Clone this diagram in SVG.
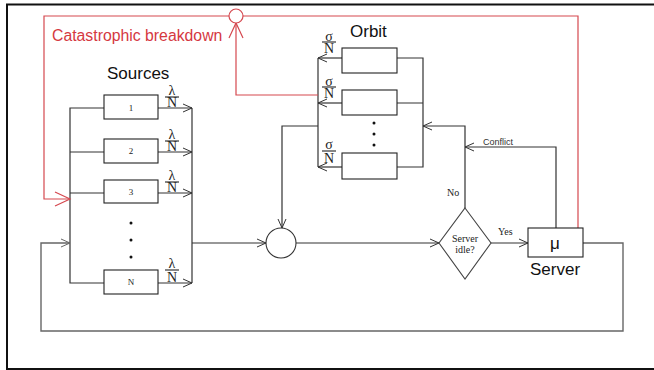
<svg xmlns="http://www.w3.org/2000/svg" width="654" height="370" viewBox="0 0 654 370">
<style>
.ln{fill:none;stroke:#333;stroke-width:1.2}
.fb{fill:none;stroke:#666;stroke-width:1.4}
.rd{fill:none;stroke:#d5484f;stroke-width:1.2}
.box{fill:#fff;stroke:#222;stroke-width:1.1}
.sans{font-family:"Liberation Sans",Arial,sans-serif;fill:#111}
.serif{font-family:"Liberation Serif","Times New Roman",serif;fill:#222}
.frac{font-family:"Liberation Serif","Times New Roman",serif;font-size:14px;fill:#222;text-anchor:middle}
.bar{stroke:#222;stroke-width:1.1}
.lbl{font-family:"Liberation Serif","Times New Roman",serif;font-size:9px;fill:#222;text-anchor:middle}
.dot{fill:#111}
</style>
<defs>
<marker id="a" markerUnits="userSpaceOnUse" markerWidth="20" markerHeight="20" refX="0" refY="0" orient="auto" overflow="visible">
<path d="M-9,-4 L0,0 L-9,4" fill="none" stroke="#333" stroke-width="1"/>
</marker>
<marker id="ag" markerUnits="userSpaceOnUse" markerWidth="20" markerHeight="20" refX="0" refY="0" orient="auto" overflow="visible">
<path d="M-9,-4 L0,0 L-9,4" fill="none" stroke="#666" stroke-width="1"/>
</marker>
<marker id="ar" markerUnits="userSpaceOnUse" markerWidth="30" markerHeight="30" refX="0" refY="0" orient="auto" overflow="visible">
<path d="M-15,-7 L0,0 L-15,7" fill="none" stroke="#d5484f" stroke-width="1.2"/>
</marker>
</defs>
<rect x="0" y="0" width="654" height="370" fill="#fff"/>
<path d="M654,4.5 H7 V369 H654" fill="none" stroke="#111" stroke-width="2"/>

<g id="connectors">
<path class="ln" d="M104,108 H70 V283 H104 M70,152 H104 M70,193 H104"/>
<path class="ln" d="M192,108 V283"/>
<path class="ln" d="M158,108 H192" marker-end="url(#a)"/>
<path class="ln" d="M158,152 H192" marker-end="url(#a)"/>
<path class="ln" d="M158,193 H192" marker-end="url(#a)"/>
<path class="ln" d="M158,283 H192" marker-end="url(#a)"/>
<path class="ln" d="M192,243 H266" marker-end="url(#a)"/>
<path class="ln" d="M296,243 H439" marker-end="url(#a)"/>
<path class="ln" d="M491,243 H528" marker-end="url(#a)"/>
<path class="ln" d="M465,208 V126 H423" marker-end="url(#a)"/>
<path class="ln" d="M556,228 V147 H465" marker-end="url(#a)"/>
<path class="ln" d="M397,58 H423 V167 H397 M397,103 H423"/>
<path class="ln" d="M318,58 V167"/>
<path class="ln" d="M342,58 H318" marker-end="url(#a)"/>
<path class="ln" d="M342,103 H318" marker-end="url(#a)"/>
<path class="ln" d="M342,167 H318" marker-end="url(#a)"/>
<path class="ln" d="M318,126 H282 V228" marker-end="url(#a)"/>
<path class="fb" d="M583,243 H623 V331 H41 V243 H70" marker-end="url(#ag)"/>
<path class="rd" d="M318,95 H236 V23" marker-end="url(#ar)"/>
<path class="rd" d="M578,228 V16 H243"/>
<path class="rd" d="M229,16 H44 V199 H70" marker-end="url(#ar)"/>
</g>

<g id="breakdown">
<circle cx="236" cy="16" r="7" fill="#fff" stroke="#d5484f" stroke-width="1.2"/>
<text class="sans" x="52" y="41" font-size="15.8" style="fill:#d5383f">Catastrophic breakdown</text>
</g>

<g id="sources">
<text class="sans" x="107" y="79" font-size="17">Sources</text>
<rect class="box" x="104" y="95" width="54" height="24"/>
<text class="lbl" x="131" y="111">1</text>
<rect class="box" x="104" y="139" width="54" height="24"/>
<text class="lbl" x="131" y="154">2</text>
<rect class="box" x="104" y="180" width="54" height="23"/>
<text class="lbl" x="131" y="195">3</text>
<rect class="box" x="104" y="270" width="54" height="24"/>
<text class="lbl" x="131" y="285">N</text>
<circle class="dot" cx="131" cy="223" r="1.5"/>
<circle class="dot" cx="131" cy="240" r="1.5"/>
<circle class="dot" cx="131" cy="257" r="1.5"/>
<text class="frac" x="172" y="95">λ</text><line class="bar" x1="165" y1="97" x2="179" y2="97"/><text class="frac" x="172" y="107">N</text>
<text class="frac" x="172" y="139">λ</text><line class="bar" x1="165" y1="141" x2="179" y2="141"/><text class="frac" x="172" y="151">N</text>
<text class="frac" x="172" y="180">λ</text><line class="bar" x1="165" y1="182" x2="179" y2="182"/><text class="frac" x="172" y="192">N</text>
<text class="frac" x="172" y="268">λ</text><line class="bar" x1="165" y1="270" x2="179" y2="270"/><text class="frac" x="172" y="282">N</text>
</g>

<g id="orbit">
<text class="sans" x="350" y="37" font-size="17">Orbit</text>
<rect class="box" x="342" y="48" width="55" height="25"/>
<rect class="box" x="342" y="90" width="55" height="25"/>
<rect class="box" x="342" y="153" width="55" height="26"/>
<circle class="dot" cx="374" cy="123" r="1.5"/>
<circle class="dot" cx="374" cy="134" r="1.5"/>
<circle class="dot" cx="374" cy="145" r="1.5"/>
<text class="frac" x="329" y="41">σ</text><line class="bar" x1="322" y1="42" x2="336" y2="42"/><text class="frac" x="329" y="53">N</text>
<text class="frac" x="329" y="86">σ</text><line class="bar" x1="322" y1="87" x2="336" y2="87"/><text class="frac" x="329" y="98">N</text>
<text class="frac" x="329" y="149">σ</text><line class="bar" x1="322" y1="151" x2="336" y2="151"/><text class="frac" x="329" y="163">N</text>
</g>

<g id="merge">
<circle cx="281" cy="243" r="15" fill="#fff" stroke="#333" stroke-width="1.1"/>
</g>

<g id="decision">
<polygon points="465,208 491,243 465,279 439,243" fill="#fff" stroke="#444" stroke-width="1.1"/>
<text class="serif" x="465" y="242" font-size="10" text-anchor="middle">Server</text>
<text class="serif" x="465" y="253" font-size="10" text-anchor="middle">idle?</text>
<text class="serif" x="447" y="196" font-size="10">No</text>
<text class="serif" x="498" y="235" font-size="10">Yes</text>
<text class="sans" x="483" y="145" font-size="9" style="fill:#333">Conflict</text>
</g>

<g id="server">
<rect class="box" x="528" y="228" width="55" height="29"/>
<text class="sans" x="555" y="249" font-size="17" text-anchor="middle">μ</text>
<text class="sans" x="530" y="275" font-size="17">Server</text>
</g>
</svg>
